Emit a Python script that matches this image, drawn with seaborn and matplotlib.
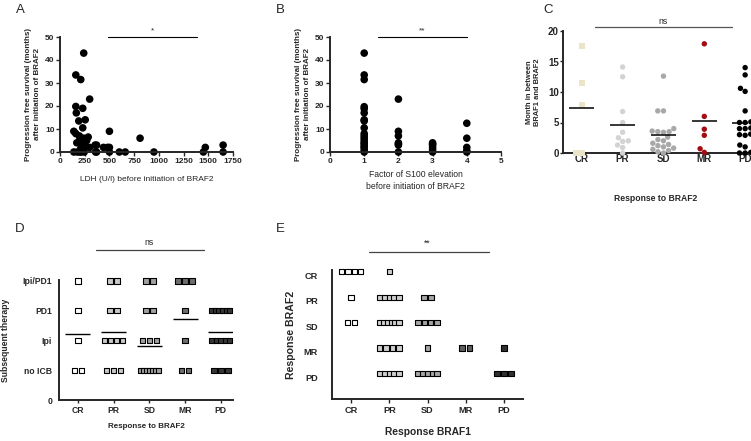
import warnings
import numpy as np
import pandas as pd
import matplotlib
matplotlib.use("Agg")
import matplotlib.pyplot as plt
import seaborn as sns

warnings.filterwarnings("ignore")

# --- A: LDH vs PFS
ldh = [240, 160, 210, 300, 160, 230, 165, 190, 255, 230, 140, 500, 810,
       160, 200, 285, 170, 225, 250, 210, 300, 195, 240, 270, 220, 260,
       355, 370, 440, 480, 500, 1470, 1650,
       140, 175, 200, 215, 245, 360, 370, 500, 600, 660, 950, 1450, 1650]
pfs_a = [43, 33.5, 31.5, 23, 19.8, 19, 17, 13.5, 14, 10.5, 9, 9, 6,
         8, 6.5, 6.5, 4, 4, 5.5, 1.5, 2, 7, 6, 5, 3, 2.5,
         3, 3, 2, 2, 2, 2, 3,
         0, 0, 0, 0, 0, 0, 0, 0, 0, 0, 0, 0, 0]

# --- B: S100 factor vs PFS
b_f1 = [43, 33.5, 31.5, 19.7, 18.8, 17, 14, 13.5, 10.5, 8, 7, 6, 5, 4, 3.5, 2.5, 2, 1, 0]
b_f2 = [23, 9, 7, 4, 3.5, 3, 0]
b_f3 = [4, 3.5, 3, 2, 1, 0]
b_f4 = [12.5, 6, 2, 0.5, 0]

# --- C: months between BRAF1 and BRAF2 by response
resp = ["CR", "PR", "SD", "MR", "PD"]
c_cr = [17.5, 11.5, 7.8, 0, 0]
c_pr = [14.1, 12.5, 6.8, 5.0, 3.4, 2.5, 2.0, 1.9, 1.3, 0.9, 0.0]
c_sd = [12.6, 6.9, 6.9, 4.0, 3.6, 3.5, 3.5, 3.4, 2.6, 2.2, 2.0, 1.6, 1.4, 1.2,
        1.0, 0.8, 0.6, 0.4, 0.2, 0.0]
c_mr = [17.9, 6.0, 3.9, 2.9, 0.7, 0.1]
c_pd = [14.0, 12.8, 10.6, 10.1, 6.9, 5.1, 5.0, 5.0, 4.1, 4.0, 4.0, 3.1, 3.0, 2.9,
        1.3, 1.0, 0.1, 0.0, 0.0]

# --- D: subsequent therapy counts (no ICB, Ipi, PD1, Ipi/PD1) per response
therapy = ["no ICB", "Ipi", "PD1", "Ipi/PD1"]
d_counts = [[2, 1, 1, 1],
            [3, 4, 2, 2],
            [7, 3, 2, 2],
            [2, 1, 1, 3],
            [3, 5, 6, 0]]
d_means = [2.2, 2.27, 1.8, 2.71, 2.3]

# --- E: rows = response BRAF2, cols = response BRAF1
e_counts = [[4, 1, 0, 0, 0],
            [1, 5, 2, 0, 0],
            [2, 6, 4, 0, 0],
            [0, 4, 1, 2, 1],
            [0, 5, 5, 0, 3]]

sns.set_theme(style="ticks")
plt.rcParams["font.family"] = ["Liberation Sans", "DejaVu Sans"]
plt.rcParams["axes.linewidth"] = 1.4

W, H = 751, 441
fig = plt.figure(figsize=(W / 100, H / 100), dpi=100)


def box(l, r, t, b):
    return [l / W, 1 - b / H, (r - l) / W, (b - t) / H]


def bold_ticks(ax, size):
    for lab in ax.get_xticklabels() + ax.get_yticklabels():
        lab.set_fontweight("bold")
        lab.set_fontsize(size)


def spread(n, pitch, max_span):
    span = min(pitch * (n - 1), max_span)
    return np.linspace(-span / 2, span / 2, n) if n > 1 else np.zeros(1)


# ---------------- A
axA = fig.add_axes(box(60, 233, 37, 152))
sns.scatterplot(x=ldh, y=pfs_a, ax=axA, color="black", s=30, edgecolor="none", clip_on=False)
axA.set_xlim(0, 1750)
axA.set_ylim(0, 50)
axA.set_xticks(range(0, 1751, 250))
axA.set_yticks(range(0, 51, 10))
axA.tick_params(length=3, width=1, pad=1)
bold_ticks(axA, 6)
axA.set_xlabel("LDH (U/l) before initiation of BRAF2", fontsize=6, labelpad=8)
axA.set_ylabel("Progression free survival (months)\nafter initiation of BRAF2",
               fontsize=5.8, fontweight="bold", labelpad=3, linespacing=1.3)
axA.plot([485, 1385], [50, 50], color="black", lw=0.8, clip_on=False)
axA.text(935, 51.2, "*", ha="center", va="bottom", fontsize=6)
sns.despine(ax=axA)

# ---------------- B
dfB = pd.DataFrame({
    "factor": [1] * len(b_f1) + [2] * len(b_f2) + [3] * len(b_f3) + [4] * len(b_f4),
    "pfs": b_f1 + b_f2 + b_f3 + b_f4,
})
axB = fig.add_axes(box(330, 501, 37, 152))
sns.scatterplot(data=dfB, x="factor", y="pfs", ax=axB, color="black", s=30,
                edgecolor="none", clip_on=False)
axB.set_xlim(0, 5)
axB.set_ylim(0, 50)
axB.set_xticks(range(0, 6))
axB.set_yticks(range(0, 51, 10))
axB.tick_params(length=3, width=1, pad=1)
bold_ticks(axB, 6)
axB.set_xlabel("Factor of S100 elevation\nbefore initiation of BRAF2", fontsize=6.2,
               labelpad=4, linespacing=1.35)
axB.set_ylabel("Progression free survival (months)\nafter initiation of BRAF2",
               fontsize=5.8, fontweight="bold", labelpad=3, linespacing=1.3)
axB.plot([1.39, 4.0], [50, 50], color="black", lw=0.8, clip_on=False)
axB.text(2.7, 51.2, "**", ha="center", va="bottom", fontsize=6)
sns.despine(ax=axB)

# ---------------- C
c_groups = [c_cr, c_pr, c_sd, c_mr, c_pd]
dfC = pd.DataFrame({
    "resp": [r for r, g in zip(resp, c_groups) for _ in g],
    "month": [v for g in c_groups for v in g],
})
c_pal = {"CR": "#ece4c9", "PR": "#d3d3d3", "SD": "#a8a8a8", "MR": "#a30d12", "PD": "black"}
axC = fig.add_axes(box(563, 748, 31, 153))
sns.swarmplot(data=dfC[dfC.resp == "CR"], x="resp", y="month", order=resp, ax=axC,
              color=c_pal["CR"], marker="s", size=4.0, linewidth=0)
sns.swarmplot(data=dfC[dfC.resp != "CR"], x="resp", y="month", order=resp, ax=axC,
              hue="resp", palette=c_pal, size=3.9, linewidth=0, legend=False)
for coll in axC.collections:
    coll.set_clip_on(False)
means = dfC.groupby("resp")["month"].mean().reindex(resp)
pos = np.arange(len(resp))
axC.hlines(means.values, pos - 0.31, pos + 0.31, color="black", lw=1.1, zorder=5)
axC.set_xlim(-0.46, 4.07)
axC.set_ylim(0, 20)
axC.set_yticks(range(0, 21, 5))
axC.tick_params(axis="x", length=0, pad=1)
axC.tick_params(axis="y", length=2, width=1, pad=1)
bold_ticks(axC, 7)
axC.set_xlabel("Response to BRAF2", fontsize=6.2, fontweight="bold", labelpad=21)
axC.set_ylabel("Month in between\nBRAF1 and BRAF2", fontsize=5.4, fontweight="bold",
               labelpad=5, linespacing=1.2)
axC.plot([0.32, 3.68], [20.6, 20.6], color="#555555", lw=0.9, clip_on=False)
axC.text(2.0, 20.9, "ns", ha="center", va="bottom", fontsize=6.2)
sns.despine(ax=axC)

# ---------------- D
d_pal = {"CR": "white", "PR": "#c9c9c9", "SD": "#a0a0a0", "MR": "#6e6e6e", "PD": "#363636"}
rowsD = []
for i, r in enumerate(resp):
    for j, n in enumerate(d_counts[i]):
        if n == 0:
            continue
        for off in spread(n, 0.196, 0.5):
            rowsD.append((r, i + off, j + 1))
dfD = pd.DataFrame(rowsD, columns=["resp", "x", "y"])
axD = fig.add_axes(box(59, 233, 280, 400))
sns.scatterplot(data=dfD, x="x", y="y", hue="resp", palette=d_pal, marker="s", s=15,
                edgecolor="black", linewidth=0.8, legend=False, ax=axD, clip_on=False)
axD.hlines(d_means, pos - 0.35, pos + 0.35, color="black", lw=1.0)
axD.set_xlim(-0.53, 4.34)
axD.set_ylim(0, 4.03)
axD.set_xticks(pos)
axD.set_xticklabels(resp)
axD.set_yticks(range(0, 5))
axD.set_yticklabels(["0"] + therapy)
axD.tick_params(axis="x", length=2, width=1, pad=2)
axD.tick_params(axis="y", length=0, pad=5)
bold_ticks(axD, 6.2)
axD.set_xlabel("Response to BRAF2", fontsize=5.8, fontweight="bold", labelpad=6)
axD.set_ylabel("Subsequent therapy", fontsize=6.2, fontweight="bold", labelpad=9)
axD.plot([0.5, 3.53], [5.04, 5.04], color="#444444", lw=0.9, clip_on=False)
axD.text(2.0, 5.15, "ns", ha="center", va="bottom", fontsize=6.2)
sns.despine(ax=axD)

# ---------------- E
e_pal = {"CR": "white", "PR": "#cfcfcf", "SD": "#a6a6a6", "MR": "#5e5e5e", "PD": "#303030"}
rowsE = []
for i in range(5):
    for j in range(5):
        n = e_counts[i][j]
        if n == 0:
            continue
        for off in spread(n, 0.184, 0.5):
            rowsE.append((resp[j], j + 1 + off, i + 1))
dfE = pd.DataFrame(rowsE, columns=["braf1", "x", "y"])
axE = fig.add_axes(box(332, 523, 270, 399))
sns.scatterplot(data=dfE, x="x", y="y", hue="braf1", palette=e_pal, marker="s", s=15,
                edgecolor="black", linewidth=0.8, legend=False, ax=axE, clip_on=False)
axE.set_xlim(0.5, 5.5)
axE.set_ylim(6.0, 0.93)
axE.set_xticks(range(1, 6))
axE.set_xticklabels(resp)
axE.set_yticks(range(1, 6))
axE.set_yticklabels(resp)
axE.tick_params(axis="x", length=3, width=1, pad=2)
axE.tick_params(axis="y", length=0, pad=10)
bold_ticks(axE, 6.6)
for lab in axE.get_yticklabels():
    lab.set_va("top")
axE.set_xlabel("Response BRAF1", fontsize=7.4, fontweight="bold", labelpad=9)
axE.set_ylabel("Response BRAF2", fontsize=7.6, fontweight="bold", labelpad=6)
axE.plot([1.46, 4.61], [0.24, 0.24], color="#444444", lw=0.9, clip_on=False)
axE.text(3.0, 0.05, "**", ha="center", va="bottom", fontsize=6.2)
sns.despine(ax=axE)

# panel letters
for letter, x, y in [("A", 20, 10), ("B", 280, 10), ("C", 548, 10), ("D", 20, 229), ("E", 280, 229)]:
    fig.text(x / W, 1 - y / H, letter, fontsize=9.5, ha="center", va="center")

fig.savefig("out.png", dpi=100)
